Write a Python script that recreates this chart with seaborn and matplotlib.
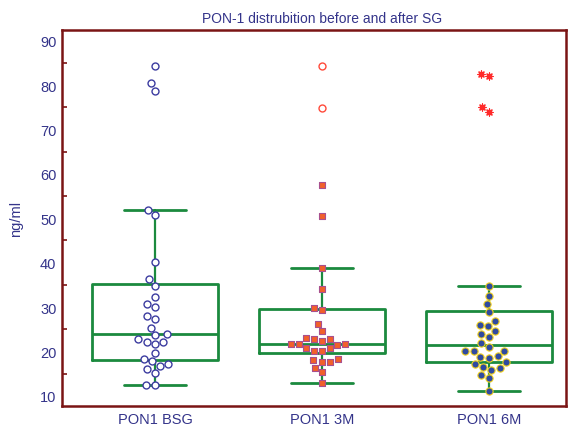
import matplotlib
matplotlib.use('Agg')
import matplotlib.pyplot as plt
import numpy as np
import pandas as pd
import seaborn as sns

# PON-1 values (ng/ml)
groups = ['PON1 BSG', 'PON1 3M', 'PON1 6M']
pon_bsg = [84.4, 80.4, 78.7, 51.9, 50.8, 40.2, 36.2, 34.8, 32.2, 30.7, 29.9, 28.0, 27.2, 25.3, 23.9,
           23.6, 22.8, 22.2, 22.1, 21.6, 19.7, 18.3, 17.8, 17.1, 16.8, 16.1, 15.2, 12.5, 12.5]
pon_3m = [84.4, 74.8, 57.5, 50.5, 38.8, 34.1, 29.7, 29.4, 26.2, 24.7, 23.0, 22.8, 22.8, 22.3, 21.7,
          21.7, 21.6, 21.5, 20.7, 20.7, 20.2, 20.2, 18.3, 18.0, 17.6, 17.6, 16.3, 15.3, 12.8]
pon_6m = [82.5, 82.0, 75.0, 73.9, 34.8, 32.5, 30.7, 28.9, 26.8, 26.0, 25.7, 24.6, 23.9, 23.3, 21.9,
          21.0, 20.2, 20.1, 20.0, 18.9, 18.7, 18.6, 17.6, 17.2, 16.5, 16.2, 15.9, 14.6, 14.1, 11.1]
y_ticks = [10, 20, 30, 40, 50, 60, 70, 80, 90]
title = 'PON-1 distrubition before and after SG'

navy = '#34348a'
maroon = '#7a1414'
green = '#1b8a3e'

sns.set_style('white')
plt.rcParams['font.family'] = ['Liberation Sans', 'DejaVu Sans']

# box statistics + split of far-out values (> 3 IQR)
stats = []
frames = []
for name, vals in zip(groups, [pon_bsg, pon_3m, pon_6m]):
    v = np.asarray(vals)
    q1, med, q3 = np.percentile(v, [25, 50, 75], method='median_unbiased')
    iqr = q3 - q1
    lo = v[v >= q1 - 1.5 * iqr].min()
    hi = v[v <= q3 + 1.5 * iqr].max()
    stats.append(dict(med=med, q1=q1, q3=q3, whislo=lo, whishi=hi, fliers=[]))
    far = (v > q3 + 3 * iqr) | (v < q1 - 3 * iqr)
    frames.append(pd.DataFrame({'group': name, 'value': v, 'far': far}))
df = pd.concat(frames, ignore_index=True)

fig = plt.figure(figsize=(5.73, 4.27), dpi=100)
ax = fig.add_axes([62 / 573, 20 / 427, 504 / 573, 376 / 427])

line = dict(color=green, linewidth=2)
ax.bxp(stats, positions=[0, 1, 2], widths=0.754, capwidths=0.377, showfliers=False,
       boxprops=line, whiskerprops=dict(color=green, linewidth=1.6), capprops=line,
       medianprops=line, zorder=1)

normal_style = {
    'PON1 BSG': dict(marker='o', color='white', edgecolor='#3c3ca0', linewidth=1, size=5),
    'PON1 3M': dict(marker='s', color='#f2602a', edgecolor='#a8508e', linewidth=0.8, size=4.8),
    'PON1 6M': dict(marker='o', color='#2f4aa0', edgecolor='#f0d020', linewidth=0.8, size=5.2),
}
far_style = {
    'PON1 BSG': dict(marker='o', color='white', edgecolor='#3c3ca0', linewidth=1, size=5),
    'PON1 3M': dict(marker='o', color='white', edgecolor='#ff4a3a', linewidth=1, size=5),
    'PON1 6M': dict(marker=(8, 2, 0), color='#ff2a2a', edgecolor='#ff2a2a', linewidth=0.9, size=5),
}

for name in groups:
    sub = df[df.group == name]
    for is_far, styles in [(False, normal_style), (True, far_style)]:
        part = sub[sub.far == is_far]
        if len(part) == 0:
            continue
        sns.swarmplot(data=part, x='group', y='value', order=groups, ax=ax, zorder=3,
                      **styles[name])

ax.set_xlim(-0.557, 2.461)
ax.set_ylim(7.7, 92.4)
ax.set_yticks(y_ticks)
ax.set_yticks(np.arange(15, 90, 10), minor=True)
ax.set_xticks([0, 1, 2])
ax.set_xticklabels(groups)

for s in ax.spines.values():
    s.set_color(maroon)
    s.set_linewidth(1.8)
ax.tick_params(axis='y', which='major', direction='in', length=7, width=1.5,
               color=maroon, labelcolor=navy, labelsize=10.5, pad=4)
ax.tick_params(axis='y', which='minor', direction='in', length=3.5, width=1.2, color=maroon, left=True)
ax.tick_params(axis='x', which='major', direction='in', length=6, width=1.5,
               color=maroon, labelcolor=navy, labelsize=10.5, pad=4)

ax.set_xlabel('')
ax.set_ylabel('ng/ml', color=navy, fontsize=10.5, labelpad=12)
ax.set_title(title, color=navy, fontsize=10, x=0.516, pad=6)

fig.savefig('out.png', dpi=100, facecolor='white')
